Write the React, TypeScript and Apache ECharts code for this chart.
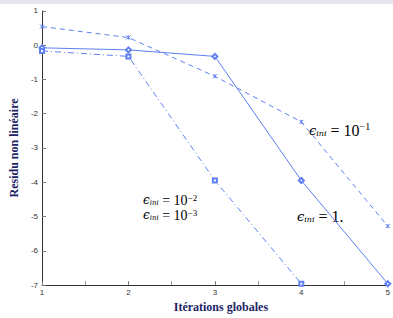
import React, { useEffect, useRef } from "react";
import * as echarts from "echarts";

const iterations = [1, 2, 3, 4, 5];
const epsOne = [-0.08, -0.14, -0.33, -3.95, -6.96];
const epsTenM1 = [0.54, 0.22, -0.91, -2.24, -5.28];
const epsTenM2 = [-0.17, -0.33, -3.95, -6.96];
const yTicks = [1, 0, -1, -2, -3, -4, -5, -6, -7];

const blue = "#5f7ff2";
const navy = "#1d2466";

const bigRich = {
  e: { fontFamily: "DejaVu Serif", fontStyle: "italic", fontSize: 13, color: navy },
  s: { fontFamily: "DejaVu Serif", fontStyle: "italic", fontSize: 8, color: navy, padding: [7, 0, 0, 0] },
  t: { fontFamily: "Liberation Serif", fontSize: 16, color: navy },
  p: { fontFamily: "Liberation Serif", fontSize: 10, color: navy, padding: [0, 0, 8, 0] },
};

const smallRich = {
  e: { fontFamily: "DejaVu Serif", fontStyle: "italic", fontSize: 12, lineHeight: 11, color: navy },
  s: { fontFamily: "DejaVu Serif", fontStyle: "italic", fontSize: 7, lineHeight: 6, color: navy, padding: [5, 0, 0, 0] },
  t: { fontFamily: "Liberation Serif", fontSize: 14, lineHeight: 11, color: navy },
  p: { fontFamily: "Liberation Serif", fontSize: 9, lineHeight: 6, color: navy, padding: [0, 0, 5, 0] },
};

export default function App() {
  const ref = useRef<HTMLDivElement>(null);
  useEffect(() => {
    const chart = echarts.init(ref.current!, null, { renderer: "svg" });
    const pair = (ys: number[]) => ys.map((y, i) => [iterations[i], y]);
    chart.setOption({
      animation: false,
      backgroundColor: "#ffffff",
      grid: { left: 33, right: 5, top: 10.8, bottom: 26 },
      xAxis: {
        type: "value",
        min: 1,
        max: 5,
        interval: 1,
        name: "Itérations globales",
        nameLocation: "middle",
        nameGap: 13,
        nameTextStyle: { fontFamily: "Liberation Serif", fontWeight: "bold", fontSize: 12, color: navy, padding: [0, 0, 0, 12] },
        axisLine: { onZero: false, lineStyle: { color: "#333", width: 1 } },
        axisTick: { inside: true, length: 4, lineStyle: { color: "#777" } },
        minorTick: { show: true, splitNumber: 2, length: 4, lineStyle: { color: "#999" } },
        axisLabel: { fontFamily: "Liberation Sans", fontSize: 8, color: "#333", margin: 3 },
        splitLine: { show: false },
      },
      yAxis: {
        type: "value",
        min: -7,
        max: 1,
        interval: 1,
        name: "Residu non linéaire",
        nameLocation: "middle",
        nameGap: 21,
        nameRotate: 90,
        nameTextStyle: { fontFamily: "Liberation Serif", fontWeight: "bold", fontSize: 12, color: navy },
        axisLine: { show: true, onZero: false, lineStyle: { color: "#333", width: 1 } },
        axisTick: { show: true, inside: true, length: 4, lineStyle: { color: "#777" } },
        axisLabel: {
          fontFamily: "Liberation Sans",
          fontSize: 8,
          color: "#333",
          margin: 4,
          formatter: (v: number) => (yTicks.includes(v) ? String(v) : ""),
        },
        splitLine: { show: false },
      },
      series: [
        {
          type: "line",
          data: pair(epsOne),
          symbol: "emptyDiamond",
          symbolSize: 5,
          lineStyle: { color: blue, width: 1 },
          itemStyle: { color: blue, borderColor: blue, borderWidth: 1 },
        },
        {
          type: "line",
          data: pair(epsTenM1),
          symbol: "path://M0,0L10,10M10,0L0,10M5,0L5,10",
          symbolSize: 4,
          lineStyle: { color: blue, width: 1, type: [5, 4] },
          itemStyle: { color: "none", borderColor: blue, borderWidth: 1 },
        },
        {
          type: "line",
          data: pair(epsTenM2),
          symbol: "emptyRect",
          symbolSize: 4,
          lineStyle: { color: blue, width: 1, type: [6, 3, 1, 3] },
          itemStyle: { color: blue, borderColor: blue, borderWidth: 1 },
        },
      ],
      graphic: [
        { type: "rect", left: 0, top: 0, shape: { width: 393, height: 4 }, style: { fill: "#e6e6f0" }, silent: true },
        {
          type: "text",
          left: 309,
          top: 121,
          style: { text: "{e|ϵ}{s|ini}{t| = 10}{p|−1}", rich: bigRich },
        },
        {
          type: "text",
          left: 297,
          top: 208,
          style: { text: "{e|ϵ}{s|ini}{t| = 1.}", rich: bigRich },
        },
        {
          type: "text",
          left: 143,
          top: 193,
          style: { text: "{e|ϵ}{s|ini}{t| = 10}{p|−2}", rich: smallRich },
        },
        {
          type: "text",
          left: 143,
          top: 208,
          style: { text: "{e|ϵ}{s|ini}{t| = 10}{p|−3}", rich: smallRich },
        },
      ],
    });
    return () => chart.dispose();
  }, []);
  return <div ref={ref} style={{ position: "fixed", left: 0, top: 0, width: 393, height: 318 }} />;
}
